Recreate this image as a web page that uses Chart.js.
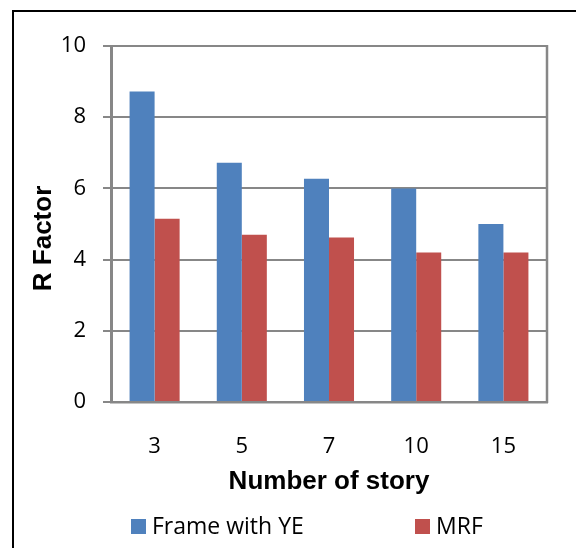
<!DOCTYPE html>
<html>
<head>
<meta charset="utf-8">
<script src="https://cdn.jsdelivr.net/npm/chart.js@4.4.1/dist/chart.umd.min.js"></script>
<style>
  html, body { margin: 0; padding: 0; background: #ffffff; }
  #wrap { position: relative; width: 576px; height: 548px; overflow: hidden; background: #ffffff; }
  #frame { position: absolute; left: 12px; top: 10px; width: 600px; height: 600px;
           border-left: 2.5px solid #000; border-top: 2px solid #000; box-sizing: border-box; }
  canvas { position: absolute; left: 0; top: 0; }
  .leg { position: absolute; top: 514px; font-family: "Open Sans", Lato, sans-serif; font-size: 23px;
         color: #000; line-height: 22px; white-space: nowrap; }
  .leg i { position: absolute; left: 0; top: 5px; width: 15px; height: 15px; }
  .leg span { position: absolute; left: 21px; top: 0; }
</style>
</head>
<body>
<div id="wrap">
  <div id="frame"></div>
  <canvas id="c" width="576" height="548"></canvas>
  <div id="legend"></div>
</div>
<script>
// Number of stories and R factor for each system
const categories = ['3', '5', '7', '10', '15'];
const frameWithYE = [8.72, 6.72, 6.27, 6.0, 5.0];
const mrf = [5.15, 4.7, 4.62, 4.2, 4.2];
const seriesNames = ['Frame with YE', 'MRF'];
const seriesColors = ['#4F81BD', '#C0504D'];
const yTicks = [0, 2, 4, 6, 8, 10];

const gridGray = '#878787';

// Plot-area outline on the right side
const frameRight = {
  id: 'frameRight',
  afterDraw(chart) {
    const { ctx, chartArea } = chart;
    ctx.save();
    ctx.strokeStyle = gridGray;
    ctx.lineWidth = 2.5;
    ctx.beginPath();
    ctx.moveTo(chartArea.right, chartArea.top - 1);
    ctx.lineTo(chartArea.right, chartArea.bottom + 1);
    ctx.stroke();
    ctx.restore();
  }
};

new Chart(document.getElementById('c'), {
  type: 'bar',
  data: {
    labels: categories,
    datasets: [
      { label: seriesNames[0], data: frameWithYE, backgroundColor: seriesColors[0] },
      { label: seriesNames[1], data: mrf, backgroundColor: seriesColors[1] }
    ]
  },
  options: {
    responsive: false,
    animation: false,
    devicePixelRatio: 1,
    layout: { padding: { left: 0, right: 29, top: 46, bottom: 0 } },
    datasets: { bar: { categoryPercentage: 0.574, barPercentage: 1.0, borderWidth: 0 } },
    plugins: { legend: { display: false }, tooltip: { enabled: false } },
    scales: {
      x: {
        grid: { display: false, drawTicks: false },
        border: { display: true, color: gridGray, width: 2.5 },
        ticks: { color: '#000', padding: 32, font: { family: 'Open Sans', size: 22 } },
        title: {
          display: true, text: 'Number of story', color: '#000',
          font: { family: 'Liberation Sans', size: 26, weight: 'bold' },
          padding: { top: 0, bottom: 51 }
        },
        afterFit(scale) { scale.height = 146; }
      },
      y: {
        min: 0, max: 10,
        afterBuildTicks(scale) { scale.ticks = yTicks.map(v => ({ value: v })); },
        grid: { color: gridGray, lineWidth: 2, tickLength: 8, drawTicks: true },
        border: { display: true, color: gridGray, width: 3 },
        ticks: { color: '#000', padding: 17, font: { family: 'Open Sans', size: 22 } },
        title: {
          display: true, text: 'R Factor    ', color: '#000',
          font: { family: 'Liberation Sans', size: 26, weight: 'bold' },
          padding: { top: 28, bottom: 0 }
        },
        afterFit(scale) { scale.width = 111; }
      }
    }
  },
  plugins: [frameRight]
});

// Legend row under the axis title
const legendX = [131, 415];
const legend = document.getElementById('legend');
seriesNames.forEach((name, i) => {
  const d = document.createElement('div');
  d.className = 'leg';
  d.style.left = legendX[i] + 'px';
  const box = document.createElement('i');
  box.style.background = seriesColors[i];
  const txt = document.createElement('span');
  txt.textContent = name;
  d.appendChild(box);
  d.appendChild(txt);
  legend.appendChild(d);
});
</script>
</body>
</html>
